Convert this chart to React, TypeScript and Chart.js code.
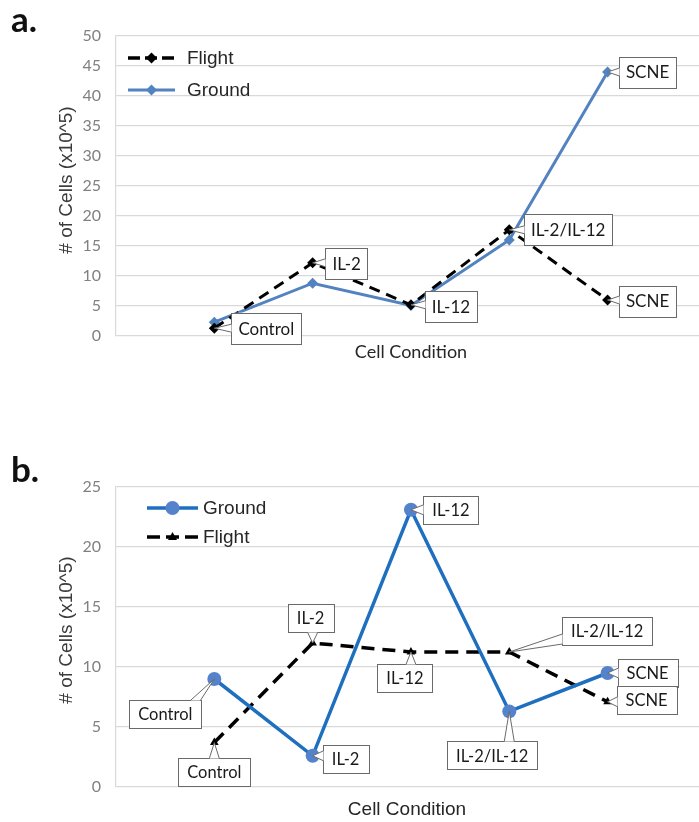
import React, { useEffect, useRef } from 'react';
import { Chart, registerables } from 'chart.js';

Chart.register(...registerables);

// ---------- DATA ----------
const categories = ['Control', 'IL-2', 'IL-12', 'IL-2/IL-12', 'SCNE'];
const xPositions = [1, 2, 3, 4, 5];

// panel a
const aFlight = [1.3, 12.2, 5.2, 17.7, 6.0];
const aGround = [2.3, 8.8, 5.1, 16.0, 44.0];
const aYMax = 50;
const aYStep = 5;

// panel b
const bGround = [9.0, 2.6, 23.1, 6.3, 9.5];
const bFlight = [3.7, 12.0, 11.25, 11.25, 7.1];
const bYMax = 25;
const bYStep = 5;

const seriesNames = { flight: 'Flight', ground: 'Ground' };
const yTitle = '# of Cells (x10^5)';
const xTitle = 'Cell Condition';

// ---------- PLUGINS ----------
const calloutPlugin = {
  id: 'callouts',
  afterDatasetsDraw(chart: any, _args: any, opts: any) {
    if (!opts || !opts.items) return;
    const ctx = chart.ctx;
    ctx.save();
    ctx.font = opts.font;
    for (const c of opts.items) {
      const el = chart.getDatasetMeta(c.ds).data[c.i];
      if (!el) continue;
      const px = el.x;
      const py = el.y;
      const text = categories[c.i];
      const tw = ctx.measureText(text).width;
      const w = tw + 2 * opts.padX;
      const h = opts.height;
      const cx = px + c.dx;
      const cy = py + c.dy;
      const l = cx - w / 2;
      const t = cy - h / 2;
      const r = l + w;
      const b = t + h;
      // box
      ctx.fillStyle = '#ffffff';
      ctx.strokeStyle = opts.border;
      ctx.lineWidth = 1;
      ctx.fillRect(l, t, w, h);
      ctx.strokeRect(Math.round(l) + 0.5, Math.round(t) + 0.5, Math.round(w), Math.round(h));
      // wedge
      const over = [
        { s: 'left', d: l - px },
        { s: 'right', d: px - r },
        { s: 'top', d: t - py },
        { s: 'bottom', d: py - b },
      ].sort((p, q) => q.d - p.d)[0];
      if (over.d > 0) {
        const half = opts.wedge;
        let b1: number[], b2: number[];
        const clamp = (v: number, lo: number, hi: number) => Math.max(lo, Math.min(hi, v));
        if (over.s === 'left' || over.s === 'right') {
          const ex = over.s === 'left' ? Math.round(l) + 0.5 : Math.round(r) + 0.5;
          const yc = clamp(py, t + half + 1, b - half - 1);
          b1 = [ex, yc - half];
          b2 = [ex, yc + half];
        } else {
          const ey = over.s === 'top' ? Math.round(t) + 0.5 : Math.round(b) + 0.5;
          const xc = clamp(px, l + half + 1, r - half - 1);
          b1 = [xc - half, ey];
          b2 = [xc + half, ey];
        }
        ctx.beginPath();
        ctx.moveTo(b1[0], b1[1]);
        ctx.lineTo(px, py);
        ctx.lineTo(b2[0], b2[1]);
        ctx.closePath();
        ctx.fillStyle = '#ffffff';
        ctx.fill();
        ctx.beginPath();
        ctx.moveTo(b1[0], b1[1]);
        ctx.lineTo(px, py);
        ctx.lineTo(b2[0], b2[1]);
        ctx.stroke();
      }
      ctx.fillStyle = opts.color;
      ctx.textAlign = 'center';
      ctx.textBaseline = 'middle';
      ctx.fillText(text, cx, cy + 1);
    }
    ctx.restore();
  },
};

function drawMarker(ctx: CanvasRenderingContext2D, style: string, x: number, y: number, r: number, color: string) {
  ctx.save();
  ctx.fillStyle = color;
  ctx.beginPath();
  if (style === 'circle') {
    ctx.arc(x, y, r, 0, Math.PI * 2);
  } else if (style === 'rectRot') {
    ctx.moveTo(x, y - r);
    ctx.lineTo(x + r, y);
    ctx.lineTo(x, y + r);
    ctx.lineTo(x - r, y);
    ctx.closePath();
  } else if (style === 'triangle') {
    ctx.moveTo(x, y - r);
    ctx.lineTo(x + r * 0.9, y + r * 0.6);
    ctx.lineTo(x - r * 0.9, y + r * 0.6);
    ctx.closePath();
  }
  ctx.fill();
  ctx.restore();
}

const overlayPlugin = {
  id: 'overlay',
  afterDraw(chart: any, _args: any, opts: any) {
    if (!opts) return;
    const ctx = chart.ctx;
    ctx.save();
    for (const it of opts.legend || []) {
      ctx.save();
      ctx.strokeStyle = it.color;
      ctx.lineWidth = it.width;
      ctx.setLineDash(it.dash || []);
      ctx.beginPath();
      ctx.moveTo(it.x, it.y);
      ctx.lineTo(it.x + it.len, it.y);
      ctx.stroke();
      ctx.restore();
      drawMarker(ctx, it.pointStyle, it.x + it.len / 2, it.y, it.radius, it.pointColor);
      ctx.font = opts.legendFont;
      ctx.fillStyle = opts.legendColor;
      ctx.textAlign = 'left';
      ctx.textBaseline = 'middle';
      ctx.fillText(it.text, it.x + it.len + it.gap, it.y + 1);
    }
    for (const tx of opts.texts || []) {
      ctx.save();
      ctx.font = tx.font;
      ctx.fillStyle = tx.color;
      ctx.textAlign = tx.align || 'center';
      ctx.textBaseline = tx.baseline || 'middle';
      ctx.translate(tx.x, tx.y);
      if (tx.rotate) ctx.rotate(tx.rotate);
      ctx.fillText(tx.text, 0, 0);
      ctx.restore();
    }
    ctx.restore();
  },
};

// ---------- CHART FACTORY ----------
function makeConfig(panel: 'a' | 'b'): any {
  const isA = panel === 'a';
  const flightColor = '#000000';
  const groundLine = isA ? '#5282c0' : '#1f6fc1';
  const groundPoint = isA ? '#5282c0' : '#5583cb';

  const flightDs = {
    label: seriesNames.flight,
    data: xPositions.map((x, i) => ({ x, y: isA ? aFlight[i] : bFlight[i] })),
    borderColor: flightColor,
    backgroundColor: flightColor,
    borderWidth: isA ? 3 : 3.5,
    borderDash: isA ? [11, 7] : [13, 8],
    pointStyle: isA ? 'rectRot' : 'triangle',
    pointRadius: isA ? 5.5 : 5,
    pointBorderWidth: 0,
    pointBackgroundColor: flightColor,
    tension: 0,
  };
  const groundDs = {
    label: seriesNames.ground,
    data: xPositions.map((x, i) => ({ x, y: isA ? aGround[i] : bGround[i] })),
    borderColor: groundLine,
    backgroundColor: groundPoint,
    borderWidth: isA ? 3 : 3.5,
    pointStyle: isA ? 'rectRot' : 'circle',
    pointRadius: isA ? 5.5 : 7,
    pointBorderWidth: 0,
    pointBackgroundColor: groundPoint,
    tension: 0,
  };

  const datasets = isA ? [flightDs, groundDs] : [groundDs, flightDs];

  const calloutItems = isA
    ? [
        { ds: 0, i: 0, dx: 52, dy: 0 },
        { ds: 0, i: 1, dx: 34, dy: 1 },
        { ds: 0, i: 2, dx: 40, dy: 2 },
        { ds: 0, i: 3, dx: 59, dy: 0 },
        { ds: 0, i: 4, dx: 40, dy: 1 },
        { ds: 1, i: 4, dx: 40, dy: 0 },
      ]
    : [
        { ds: 0, i: 0, dx: -49, dy: 35 },
        { ds: 1, i: 0, dx: 0, dy: 29 },
        { ds: 0, i: 1, dx: 33, dy: 3 },
        { ds: 1, i: 1, dx: -2, dy: -25 },
        { ds: 0, i: 2, dx: 40, dy: 0 },
        { ds: 1, i: 2, dx: -6, dy: 26 },
        { ds: 1, i: 3, dx: 98, dy: -21 },
        { ds: 0, i: 3, dx: -17, dy: 44 },
        { ds: 0, i: 4, dx: 40, dy: 0 },
        { ds: 1, i: 4, dx: 39, dy: -2 },
      ];

  const legend = isA
    ? [
        { text: seriesNames.flight, x: 128, y: 58, len: 47, gap: 12, color: flightColor, width: 3.5, dash: [12, 5], pointStyle: 'rectRot', radius: 5.5, pointColor: flightColor },
        { text: seriesNames.ground, x: 128, y: 90, len: 47, gap: 12, color: groundLine, width: 3, dash: [], pointStyle: 'rectRot', radius: 5.5, pointColor: groundPoint },
      ]
    : [
        { text: seriesNames.ground, x: 147, y: 58, len: 51, gap: 5, color: groundLine, width: 3.5, dash: [], pointStyle: 'circle', radius: 7, pointColor: groundPoint },
        { text: seriesNames.flight, x: 147, y: 87, len: 51, gap: 5, color: flightColor, width: 3.5, dash: [13, 6], pointStyle: 'triangle', radius: 5, pointColor: flightColor },
      ];

  const texts = [
    { text: isA ? 'a.' : 'b.', x: 11, y: 32, font: 'bold 35px Lato', color: '#111111', align: 'left', baseline: 'alphabetic' },
    { text: yTitle, x: 67, y: 180, font: '19px "Liberation Sans"', color: '#3a3a3a', rotate: -Math.PI / 2 },
    isA
      ? { text: xTitle, x: 411, y: 352, font: '18px Lato', color: '#262626' }
      : { text: xTitle, x: 407, y: 360, font: '19px "Liberation Sans"', color: '#262626' },
  ];

  return {
    type: 'line',
    data: { datasets },
    options: {
      responsive: false,
      animation: false,
      layout: {
        autoPadding: false,
        padding: isA ? { top: 36, bottom: 34, left: 0, right: 0 } : { top: 37, bottom: 35, left: 0, right: 0 },
      },
      scales: {
        x: { type: 'linear', min: 0, max: 5.93, display: false },
        y: {
          min: 0,
          max: isA ? aYMax : bYMax,
          ticks: {
            stepSize: isA ? aYStep : bYStep,
            color: '#808080',
            font: { family: 'Lato', size: 16 },
            padding: 15,
          },
          grid: { color: '#d9d9d9', lineWidth: 1.2, drawTicks: false },
          border: { display: true, color: '#d9d9d9', width: 1.2 },
          afterFit(scale: any) {
            scale.width = 116;
          },
        },
      },
      plugins: {
        legend: { display: false },
        tooltip: { enabled: false },
        callouts: {
          items: calloutItems,
          font: isA ? '17px Lato' : '16.5px Lato',
          color: '#1a1a1a',
          border: '#6a6a6a',
          padX: isA ? 7 : 9,
          height: isA ? 31 : 28,
          wedge: isA ? 4 : 5,
        },
        overlay: {
          legend,
          legendFont: '19px "Liberation Sans"',
          legendColor: '#262626',
          texts,
        },
      },
    },
    plugins: [calloutPlugin, overlayPlugin],
  };
}

function Panel({ panel, top, height }: { panel: 'a' | 'b'; top: number; height: number }) {
  const ref = useRef<HTMLCanvasElement | null>(null);
  useEffect(() => {
    if (!ref.current) return;
    const chart = new Chart(ref.current, makeConfig(panel));
    return () => chart.destroy();
  }, [panel]);
  return (
    <canvas
      ref={ref}
      width={699}
      height={height}
      style={{ position: 'absolute', left: 0, top, width: 699, height }}
    />
  );
}

export default function App() {
  return (
    <div style={{ position: 'fixed', left: 0, top: 0, width: 699, height: 822, background: '#ffffff', overflow: 'hidden' }}>
      <Panel panel="a" top={0} height={370} />
      <Panel panel="b" top={450} height={372} />
    </div>
  );
}
